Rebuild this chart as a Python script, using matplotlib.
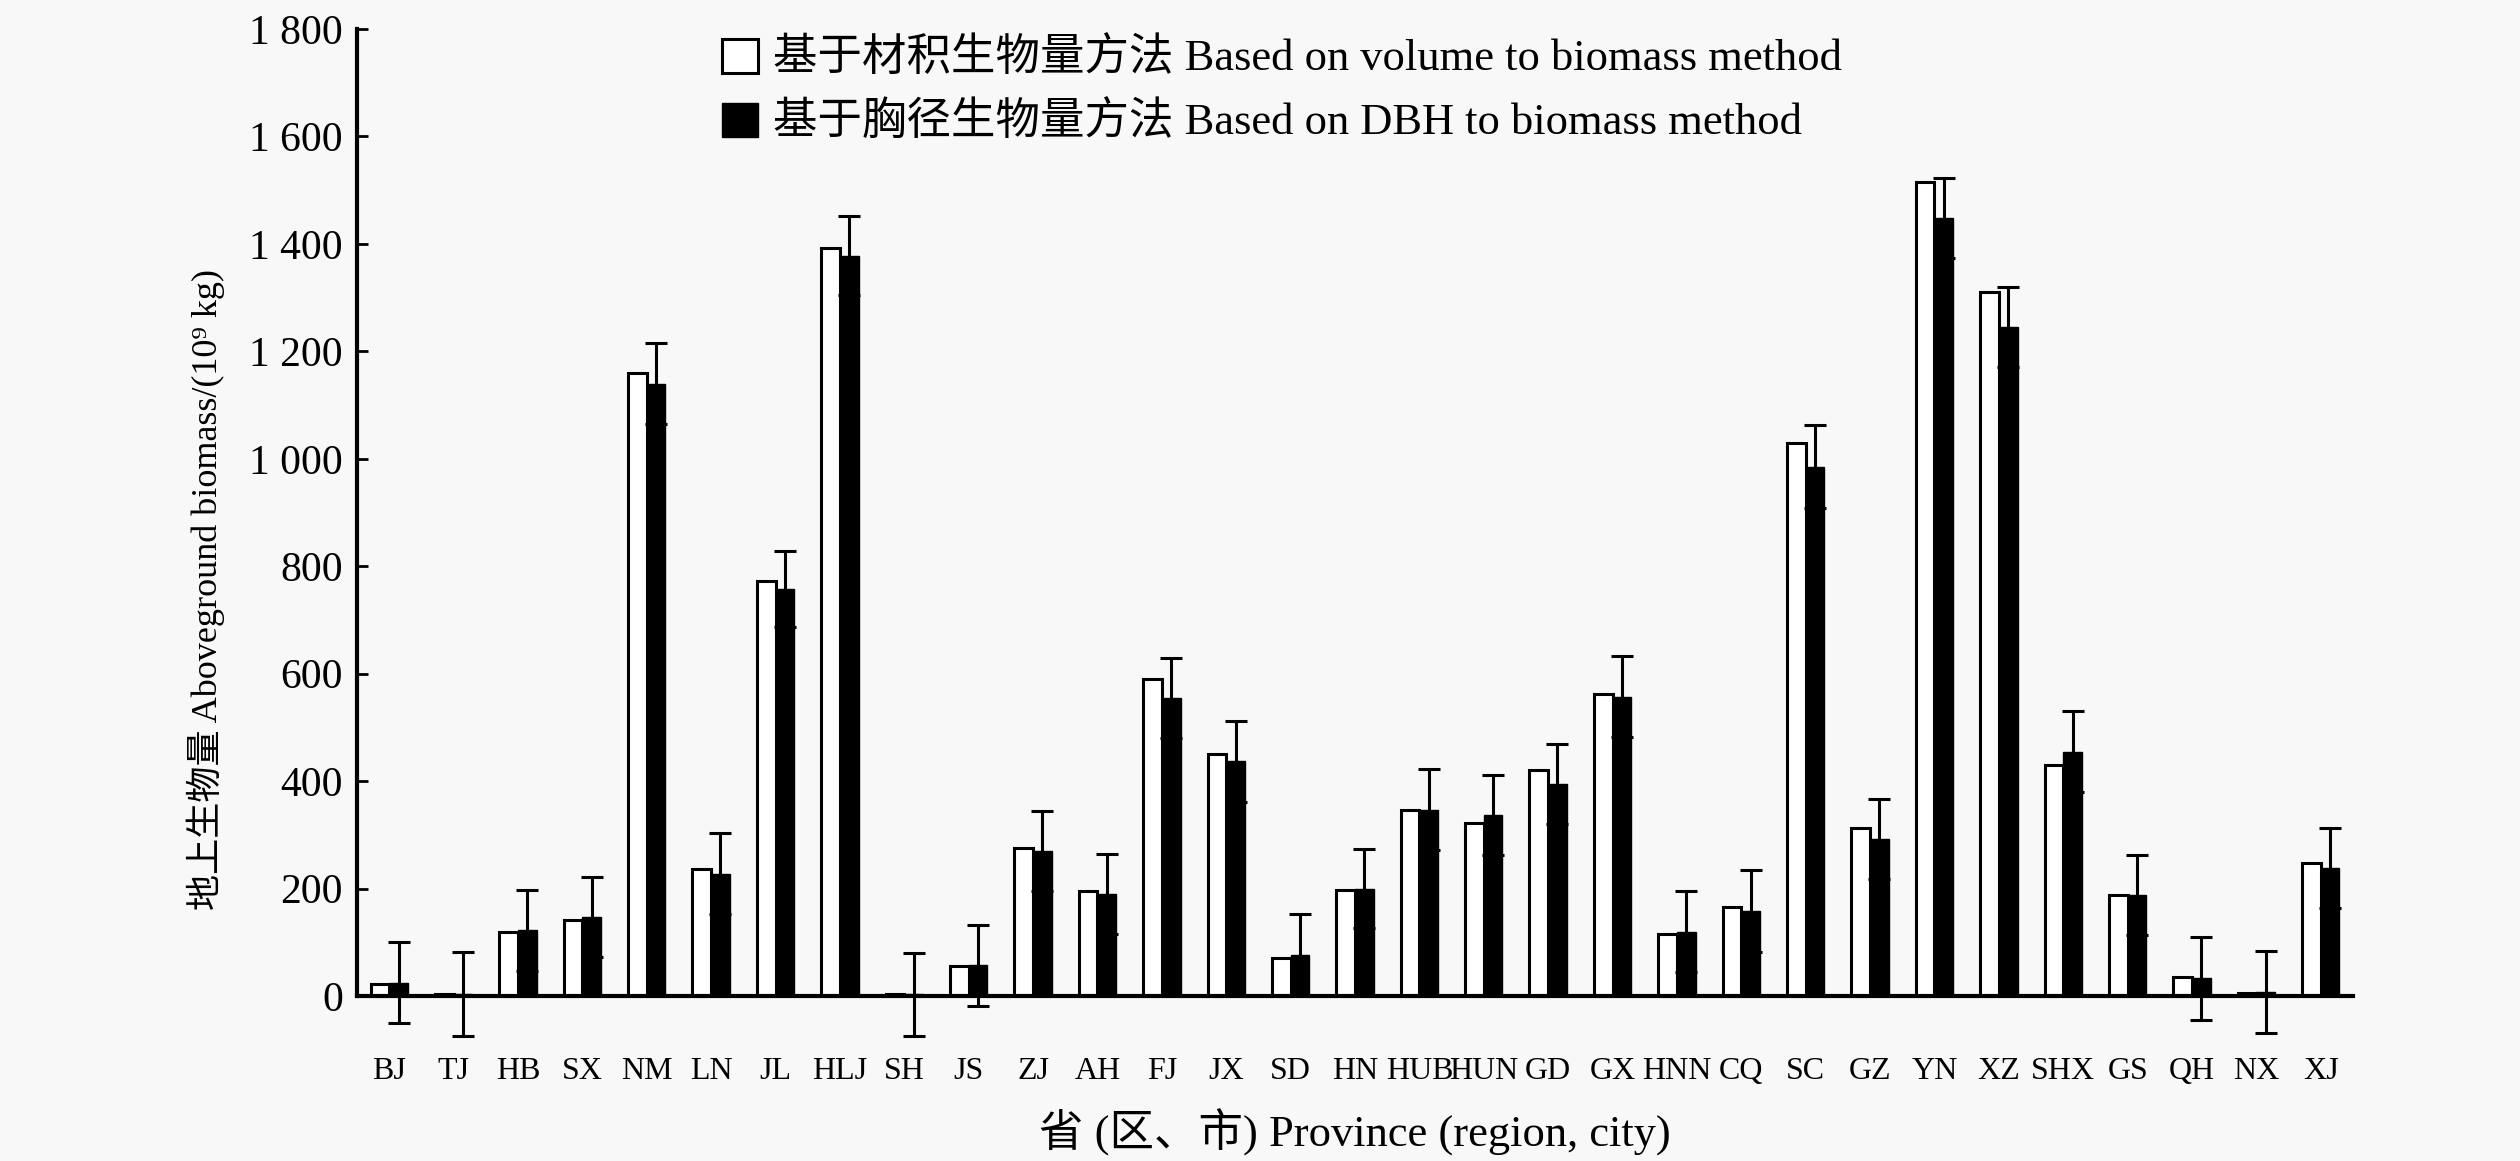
import numpy as np
import matplotlib
matplotlib.use('Agg')
import matplotlib.pyplot as plt
from matplotlib.ticker import FuncFormatter

plt.rcParams['font.family'] = ['Liberation Serif', 'Noto Sans CJK SC']

provinces = ['BJ', 'TJ', 'HB', 'SX', 'NM', 'LN', 'JL', 'HLJ', 'SH', 'JS',
             'ZJ', 'AH', 'FJ', 'JX', 'SD', 'HN', 'HUB', 'HUN', 'GD', 'GX',
             'HNN', 'CQ', 'SC', 'GZ', 'YN', 'XZ', 'SHX', 'GS', 'QH', 'NX', 'XJ']

# volume to biomass method
vol_bio = [22, 3, 120, 142, 1160, 237, 772, 1392, 3, 55,
           275, 195, 590, 450, 70, 198, 347, 322, 420, 562,
           115, 165, 1030, 312, 1515, 1310, 430, 188, 35, 5, 248]

# DBH to biomass method
dbh_bio = [25, 3, 122, 147, 1140, 228, 757, 1378, 3, 57,
           270, 190, 555, 437, 77, 200, 347, 337, 395, 557,
           120, 158, 985, 292, 1448, 1245, 455, 188, 33, 7, 238]

dbh_err = [75, 78, 75, 75, 75, 75, 71, 74, 77, 75,
           75, 75, 75, 75, 75, 73, 75, 75, 75, 75,
           76, 77, 77, 74, 75, 75, 75, 75, 77, 76, 75]

W, H = 2520, 1161
fig = plt.figure(figsize=(W / 100.0, H / 100.0), dpi=100, facecolor='#f8f8f8')
ax = fig.add_axes([357.0 / W, 1 - 996.0 / H, (2353.0 - 357.0) / W, (996.0 - 29.0) / H])
ax.set_facecolor('#f8f8f8')

x = np.arange(len(provinces))
w = 0.29
ax.bar(x - w / 2, vol_bio, w, color='white', edgecolor='black', linewidth=2.2,
       label=u'基于材积生物量方法 Based on volume to biomass method')
ax.bar(x + w / 2, dbh_bio, w, color='black', edgecolor='black', linewidth=1.0,
       label=u'基于胸径生物量方法 Based on DBH to biomass method')
ax.errorbar(x + w / 2, dbh_bio, yerr=dbh_err, fmt='none', ecolor='black',
            elinewidth=2.2, capsize=8, capthick=2.2, clip_on=False)

ax.set_xlim(-0.5, len(provinces) - 0.5)
ax.set_ylim(0, 1800)
ax.set_yticks(np.arange(0, 1801, 200))
ax.yaxis.set_major_formatter(FuncFormatter(lambda v, p: ('%d' % v) if v < 1000 else '%d %03d' % (v // 1000, v % 1000)))
ax.set_xticks(x)
ax.set_xticklabels(provinces)

for s in ['top', 'right']:
    ax.spines[s].set_visible(False)
for s in ['left', 'bottom']:
    ax.spines[s].set_linewidth(3)

ax.tick_params(axis='y', direction='in', length=8, width=2, labelsize=30, pad=10)
ax.tick_params(axis='x', length=0, labelsize=23, pad=44)

ax.set_ylabel(u'地上生物量 Aboveground biomass/(10\u2079 kg)', fontsize=26)
ax.yaxis.set_label_coords(-0.066, 0.42)
ax.set_xlabel(u'省 (区、市) Province (region, city)', fontsize=32)
ax.xaxis.set_label_coords(0.5, -0.116)

fig.legend(loc='upper left', bbox_to_anchor=(722.0 / W, 1 - 38.0 / H), frameon=False,
           fontsize=32, handlelength=0.8, handleheight=0.8, handletextpad=0.35,
           labelspacing=0.5, borderaxespad=0, borderpad=0)

fig.savefig('out.png', dpi=100, facecolor=fig.get_facecolor())
